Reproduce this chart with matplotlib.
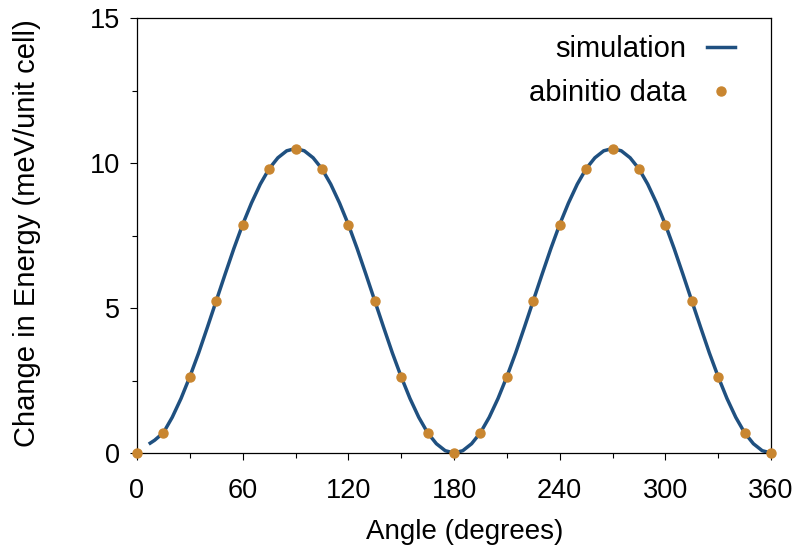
import matplotlib
matplotlib.use("Agg")
import matplotlib.pyplot as plt
from matplotlib.ticker import MultipleLocator

plt.rcParams['font.family'] = ['Liberation Sans', 'DejaVu Sans']

# ab initio points, every 15 degrees
angle_data = [0, 15, 30, 45, 60, 75, 90, 105, 120, 135, 150, 165, 180,
              195, 210, 225, 240, 255, 270, 285, 300, 315, 330, 345, 360]
energy_data = [0.0, 0.70, 2.62, 5.25, 7.87, 9.78, 10.48, 9.78, 7.87, 5.25, 2.62, 0.70, 0.0,
               0.70, 2.62, 5.25, 7.87, 9.78, 10.48, 9.78, 7.87, 5.25, 2.62, 0.70, 0.0]

# simulation curve
angle_sim = [7.5, 10, 15, 20, 25, 30, 35, 40, 45, 50, 55, 60, 65, 70, 75, 80, 85, 90,
             95, 100, 105, 110, 115, 120, 125, 130, 135, 140, 145, 150, 155, 160, 165,
             170, 175, 180, 185, 190, 195, 200, 205, 210, 215, 220, 225, 230, 235, 240,
             245, 250, 255, 260, 265, 270, 275, 280, 285, 290, 295, 300, 305, 310, 315,
             320, 325, 330, 335, 340, 345, 350, 355, 360]
energy_sim = [0.34, 0.44, 0.70, 1.23, 1.88, 2.63, 3.45, 4.34, 5.25, 6.16, 7.05, 7.88,
              8.62, 9.27, 9.80, 10.18, 10.42, 10.50, 10.42, 10.18, 9.80, 9.27, 8.62,
              7.88, 7.05, 6.16, 5.25, 4.34, 3.45, 2.63, 1.88, 1.23, 0.70, 0.32, 0.08,
              0.0, 0.08, 0.32, 0.70, 1.23, 1.88, 2.63, 3.45, 4.34, 5.25, 6.16, 7.05,
              7.88, 8.62, 9.27, 9.80, 10.18, 10.42, 10.50, 10.42, 10.18, 9.80, 9.27,
              8.62, 7.88, 7.05, 6.16, 5.25, 4.34, 3.45, 2.63, 1.88, 1.23, 0.70, 0.32,
              0.08, 0.0]

line_color = '#1f5080'
point_color = '#c98630'

fig = plt.figure(figsize=(8.01, 5.56), dpi=100)
ax = fig.add_axes([137 / 801, 1 - 453 / 556, 634 / 801, 435 / 556])

ax.plot(angle_sim, energy_sim, color=line_color, lw=2.5, label='simulation')
ax.plot(angle_data, energy_data, 'o', color=point_color, ms=6.5, clip_on=False,
        label='abinitio data', zorder=3)

ax.set_xlim(0, 360)
ax.set_ylim(0, 15)
ax.xaxis.set_major_locator(MultipleLocator(60))
ax.xaxis.set_minor_locator(MultipleLocator(30))
ax.yaxis.set_major_locator(MultipleLocator(5))
ax.yaxis.set_minor_locator(MultipleLocator(2.5))
ax.tick_params(which='both', direction='out', top=False, right=False,
               labelsize=19.5, width=0.8)
ax.tick_params(axis='x', which='major', length=5, pad=13)
ax.tick_params(axis='y', which='major', length=5, pad=7)
ax.tick_params(which='minor', length=3.5)
for s in ax.spines.values():
    s.set_linewidth(0.9)

ax.set_xlabel('Angle (degrees)', fontsize=20)
ax.set_ylabel('Change in Energy (meV/unit cell)', fontsize=21)
ax.xaxis.set_label_coords(0.517, -0.152)
ax.yaxis.set_label_coords(-0.152, 0.505)

ax.legend(loc='upper right', bbox_to_anchor=(0.943, 0.961), frameon=False,
          markerfirst=False, fontsize=21, handlelength=0.97, handletextpad=0.7,
          labelspacing=0.55, borderaxespad=0, borderpad=0)

fig.savefig('out.png', dpi=100)
